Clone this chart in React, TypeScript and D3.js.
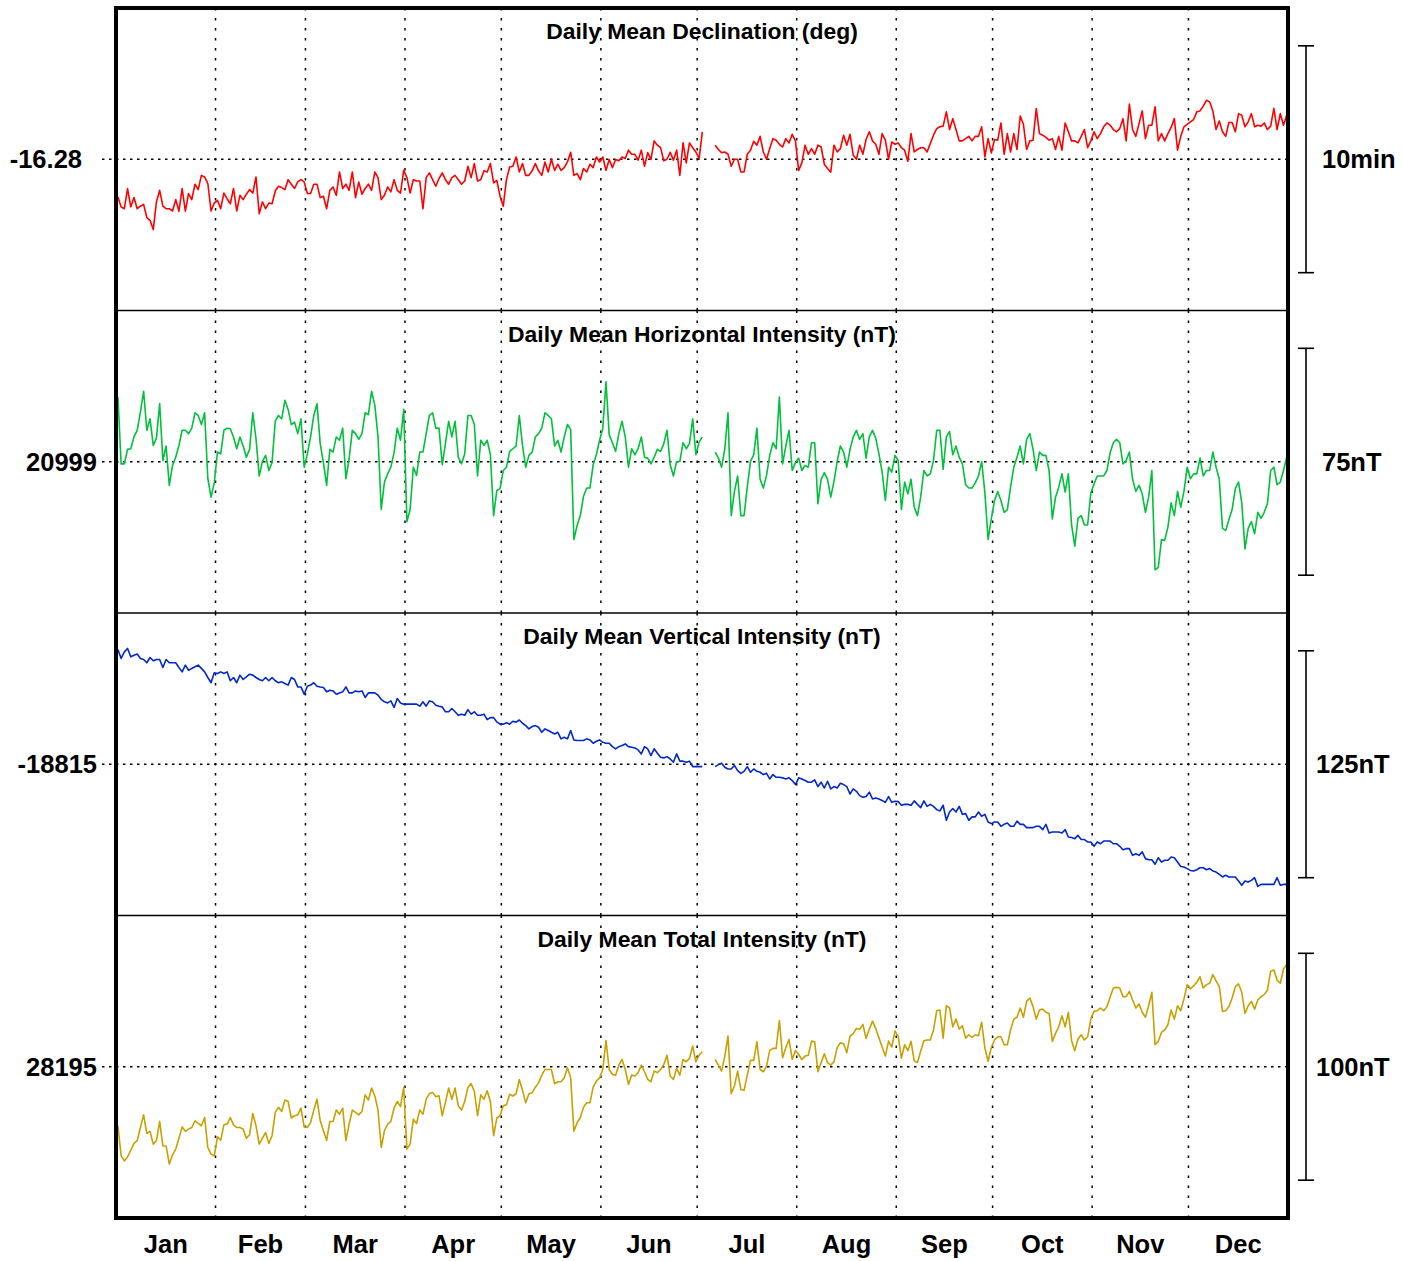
import React from 'react';
import * as d3 from 'd3';

// ---------------- DATA ----------------
const months = ['Jan', 'Feb', 'Mar', 'Apr', 'May', 'Jun', 'Jul', 'Aug', 'Sep', 'Oct', 'Nov', 'Dec'];
const monthStartDay = [0, 31, 59, 90, 120, 151, 181, 212, 243, 273, 304, 334, 365];

const panelTitles = [
  'Daily Mean Declination (deg)',
  'Daily Mean Horizontal Intensity (nT)',
  'Daily Mean Vertical Intensity (nT)',
  'Daily Mean Total Intensity (nT)',
];
const baselineLabels = ['-16.28', '20999', '-18815', '28195'];
const scaleLabels = ['10min', '75nT', '125nT', '100nT'];

// Baselines (the labelled reference level of each panel)
const declBaseDeg = -16.28;
const hBase = 20999;
const zBase = -18815;
const fBase = 28195;

// Declination: daily mean, arc-minutes relative to -16.28 deg (null = missing day)
const declOffsetMin: (number | null)[] = [
  -1.66, -2.10, -2.18, -1.29, -2.10, -1.69, -2.18, -2.07, -1.99, -2.57,
  -2.69, -3.10, -1.88, -1.37, -2.07, -2.18, -2.18, -2.28, -1.78, -2.29,
  -1.29, -2.29, -1.51, -1.78, -1.10, -1.34, -0.71, -0.78, -1.07, -2.28,
  -1.93, -1.81, -2.18, -1.49, -1.74, -1.96, -1.29, -2.28, -1.59, -1.78,
  -1.54, -1.34, -1.49, -0.78, -2.40, -1.88, -2.18, -1.93, -1.96, -1.40,
  -1.19, -1.25, -1.34, -0.90, -1.10, -1.29, -1.00, -0.90, -1.00, -1.51,
  -1.51, -1.10, -1.10, -1.69, -1.63, -2.18, -1.37, -1.22, -1.59, -0.56,
  -1.29, -1.10, -1.37, -0.56, -1.69, -1.00, -1.54, -1.29, -1.10, -1.37,
  -0.56, -0.81, -1.78, -1.59, -1.22, -1.44, -0.90, -1.37, -1.49, -0.49,
  -0.81, -1.49, -0.90, -0.96, -0.96, -2.18, -0.81, -0.60, -0.90, -1.19,
  -0.85, -0.60, -0.90, -1.10, -0.81, -0.71, -0.90, -1.10, -0.96, -0.31,
  -0.81, -0.19, -0.96, -0.90, -0.51, -0.56, -0.19, -1.04, -0.93, -1.63,
  -2.07, -0.90, -0.34,
  -0.31, 0.10, -0.56, -0.19, -0.71, -0.71, -0.51,
  -0.19, -0.51, -0.71, -0.12, -0.56, 0.00, -0.49, -0.22, -0.49, -0.37,
  -0.12, 0.31, -0.71, -0.63, -0.90, -0.41, -0.56, -0.22, -0.37, 0.10,
  -0.12, 0.10, -0.49, -0.01, -0.37, -0.01, -0.07, 0.10, 0.03, 0.40,
  0.22, 0.22, -0.04, 0.40, -0.31, 0.29, -0.01, 0.81, 0.62, 0.51,
  -0.07, 0.00, 0.31, -0.04, 0.40, -0.71, 0.72, -0.16, 0.72, 0.51,
  0.32, 0.03, 1.21, null, null, null, 0.62, 0.43, 0.29, 0.32,
  0.22, -0.31, 0.00, 0.00, -0.56, -0.56, 0.22, 0.40, 0.79, 0.62,
  1.01, 0.32, 0.00, 0.47, 0.91, 0.84, 0.66, 0.54, 0.91, 0.72,
  1.10, 0.81, -0.49, -0.16, 0.62, 0.22, 0.47, 0.22, 0.62, 0.54,
  -0.22, -0.41, -0.57, 0.62, 0.32, 0.47, 1.06, 0.62, 1.10, 0.18,
  0.00, 0.62, 0.22, 0.87, 1.21, 0.81, 0.66, 0.22, 1.13, 0.84,
  0.00, 0.76, 0.66, 0.72,
  0.51, 0.40, -0.09, 1.13, 0.32, 0.43,
  0.51, 0.51, 0.32, 0.69, 1.06, 1.35, 1.43, 1.46, 2.09, 1.31,
  1.79, 1.31, 0.81, 0.81, 0.91, 1.01, 0.81, 1.01, 1.01, 1.43,
  0.10, 0.91, 0.28, 0.87, 0.84, 1.60, 0.22, 1.13, 0.32, 1.13,
  0.43, 1.90, 1.54, 0.43, 0.81, 0.84, 2.24, 1.13, 1.06, 0.96,
  0.84, 0.91, 0.43, 1.01, 0.40, 1.60, 1.21, 0.81, 0.81, 0.72,
  1.01, 1.31, 0.51, 0.81, 1.21, 0.91, 1.13, 1.43, 1.60, 1.50,
  1.31, 1.21, 1.35, 1.79, 0.81, 2.43, 1.31, 1.01, 1.57, 2.13,
  0.91, 1.50, 1.50, 2.31, 0.81, 1.13, 0.81, 1.13, 1.40, 1.79,
  0.40, 1.01, 1.43, 1.54, 1.65, 1.75, 2.09, 2.13, 2.34, 2.60,
  2.53, 2.13, 1.31, 1.69, 1.21, 1.01, 1.62, 1.62, 1.21, 2.01,
  1.94, 1.43, 1.65, 2.01, 1.43, 1.50, 1.46, 1.60, 1.31, 1.46,
  2.24, 1.31, 2.01, 1.50, 1.94,
];

// Horizontal intensity: daily mean, nT relative to 20999 nT
const hOffsetNT: (number | null)[] = [
  21.4, -0.7, -0.7, 4.1, 4.3, 8.2, 10.4, 16.4, 23.3, 10.4,
  14.2, 5.4, 7.8, 19.2, 0.4, 5.2, -7.8, -1.2, 1.5, 5.4,
  10.4, 10.4, 9.3, 11.1, 16.2, 15.3, 12.3, 16.2, -5.6, -11.7,
  -7.0, 3.2, 2.6, 10.4, 11.1, 10.9, 8.2, 4.3, 8.2, 5.2,
  1.5, 4.1, 16.2, 7.6, -4.7, 0.1, 2.1, -2.9, -0.3, 13.4,
  15.3, 14.2, 20.3, 17.3, 12.3, 13.1, 9.3, 14.2, -1.8, 2.6,
  8.2, 15.3, 19.2, 6.0, -0.3, -7.8, 4.1, 3.2, 8.2, 7.1,
  11.1, -5.6, 1.0, 10.4, 9.3, 7.4, 9.3, 16.2, 15.6, 23.3,
  18.7, 8.2, -15.8, -6.7, -4.0, -1.8, 3.0, 11.1, 7.1, 17.3,
  -19.8, -15.8, -1.8, -4.5, 3.2, 3.2, 9.3, 15.3, 16.2, 11.1,
  11.1, -1.0, 6.0, 13.4, 8.2, 13.4, 1.5, -0.7, 2.6, 15.3,
  15.3, 12.3, -4.7, 7.1, 5.4, 7.1, 2.3, -17.8, -9.5, -8.9,
  -2.9, -1.8, 3.4,
  4.3, 5.2, 15.3, 5.4, -1.8, 2.1, 3.2,
  8.2, 9.3, 11.1, 16.2, 15.3, 14.2, 5.2, 7.1, 3.2, 8.2,
  12.3, 10.7, -25.7, -21.1, -17.8, -11.4, -8.7, -8.7, -1.0, 2.3,
  7.1, 11.1, 26.4, 8.9, 6.3, 3.4, 9.3, 13.4, 8.2, -1.8,
  4.3, 2.3, 4.3, 8.2, 1.5, 1.2, -0.7, 1.5, 4.1, 3.4,
  6.0, 10.4, -1.0, -4.7, 0.1, 0.1, 6.3, 4.3, 6.0, 14.2,
  2.3, 6.5, 8.2, null, null, null, 3.2, 1.2, -1.8, 4.3,
  16.2, -17.8, -9.8, -4.7, -17.8, -17.8, -8.4, 0.1, 2.3, 11.1,
  -5.8, -8.7, -4.5, 2.1, 6.3, 4.3, 21.4, -0.7, 5.2, 10.4,
  -2.9, -0.3, 1.2, -2.9, -1.2, -1.8, 6.3, 6.3, -13.9, -5.8,
  -3.6, -5.8, -11.7, -6.5, 0.1, 5.2, 3.2, -1.8, 4.1, 8.2,
  10.4, 7.4, 9.3, 1.2, 8.2, 10.4, 7.8, 2.6, -3.4, -12.8,
  -1.8, -3.4, 2.1, 0.4,
  -15.8, -6.7, -10.6, -5.8, -15.0, -17.8,
  -11.7, -2.9, -4.7, -4.0, 0.4, 10.4, 10.4, -2.5, 8.2, 10.0,
  2.3, 5.2, 1.5, -0.7, -7.6, -8.7, -8.7, -7.0, -4.7, 0.1,
  -10.3, -25.7, -18.9, -12.8, -9.8, -12.8, -16.7, -15.8, -8.4, -1.8,
  1.5, 5.2, -0.7, 7.4, 9.3, 4.1, -2.9, 3.2, 2.1, 2.1,
  -2.9, -18.9, -11.7, -8.4, -4.0, -10.0, -4.0, -20.9, -27.9, -18.7,
  -17.8, -20.9, -20.9, -10.3, -7.3, -4.7, -4.7, -4.7, -2.9, 3.0,
  6.3, 7.4, 6.3, -0.7, 0.4, 3.2, -5.8, -9.8, -7.8, -10.6,
  -16.7, -11.7, -2.9, -35.7, -34.9, -25.7, -26.0, -21.6, -13.6, -17.8,
  -9.8, -15.0, -9.8, -1.8, -5.6, -4.0, -4.0, 1.2, -4.7, -2.9,
  -2.9, 3.2, -1.8, -5.8, -22.0, -22.7, -19.1, -15.8, -8.9, -6.7,
  -13.6, -28.8, -22.0, -19.8, -23.8, -16.7, -18.7, -16.7, -13.9, -2.9,
  -1.8, -7.6, -6.7, -2.9, 1.5,
];

// Vertical intensity: daily mean, nT relative to -18815 nT
const zOffsetNT: (number | null)[] = [
  63.2, 58.3, 61.9, 63.8, 59.2, 60.1, 60.7, 58.3, 57.7, 55.9,
  58.8, 57.0, 57.7, 57.7, 53.3, 57.7, 55.9, 55.9, 55.9, 53.3,
  50.9, 54.6, 51.8, 52.8, 53.7, 54.6, 52.8, 50.9, 47.8, 44.9,
  50.4, 50.0, 50.9, 50.0, 50.9, 46.0, 47.8, 44.9, 49.1, 46.7,
  48.2, 49.6, 49.1, 47.8, 46.7, 46.0, 47.8, 46.0, 47.8, 46.0,
  44.9, 45.4, 44.5, 43.6, 47.8, 46.7, 42.6, 42.6, 38.6, 43.0,
  43.6, 44.9, 43.0, 42.6, 42.3, 39.9, 40.8, 40.4, 38.6, 39.3,
  39.9, 42.6, 39.3, 39.3, 40.4, 39.9, 40.4, 36.8, 39.3, 39.3,
  39.3, 38.1, 35.7, 34.4, 33.8, 34.9, 31.3, 36.2, 33.8, 33.1,
  33.1, 33.1, 33.1, 33.1, 32.0, 34.4, 32.0, 34.9, 34.4, 32.5,
  32.0, 31.6, 28.9, 28.9, 30.7, 28.9, 27.0, 27.6, 27.0, 30.1,
  27.6, 28.9, 27.0, 27.0, 27.6, 24.6, 25.7, 25.7, 23.3, 22.1,
  22.1, 22.8, 22.1,
  23.7, 23.2, 24.4, 22.6, 21.3, 19.5, 20.8,
  21.3, 20.4, 17.6, 19.5, 18.6, 17.6, 16.7, 17.6, 14.0, 14.9,
  14.0, 18.6, 13.4, 13.1, 13.1, 13.1, 14.0, 13.4, 11.6, 12.7,
  13.4, 12.1, 11.6, 11.6, 9.7, 8.5, 9.7, 10.3, 11.2, 9.7,
  9.4, 9.0, 7.9, 5.7, 9.7, 8.5, 4.8, 8.5, 6.1, 3.9,
  3.5, 4.2, 2.9, 1.1, 5.7, 1.7, 1.7, 1.1, 1.7, -1.3,
  -1.3, -1.3, -1.3, null, null, null, -1.3, -0.2, 0.6, -1.7,
  -2.6, -2.6, -0.7, -3.5, -5.0, -3.9, -1.3, -4.4, -2.6, -3.9,
  -4.4, -5.7, -5.0, -8.1, -5.7, -7.2, -7.2, -7.5, -8.1, -7.5,
  -9.0, -11.2, -7.5, -8.1, -9.0, -9.9, -9.9, -8.6, -12.3, -9.9,
  -13.1, -9.4, -13.6, -12.3, -13.1, -10.5, -11.2, -12.3, -16.4, -13.6,
  -14.9, -17.3, -18.2, -17.8, -15.4, -19.1, -18.6, -19.1, -20.0, -21.0,
  -17.8, -21.0, -20.4, -20.6,
  -22.6, -22.1, -22.1, -22.6, -20.2, -22.1,
  -23.9, -20.2, -23.2, -22.1, -23.2, -25.0, -25.7, -22.6, -30.9, -26.3,
  -24.4, -26.3, -23.2, -27.6, -27.2, -30.9, -29.0, -29.0, -26.3, -28.7,
  -27.6, -31.8, -32.7, -31.8, -31.8, -34.2, -33.1, -32.4, -34.2, -34.2,
  -31.3, -33.1, -33.1, -34.9, -34.9, -34.9, -34.2, -34.2, -36.0, -33.1,
  -37.9, -37.3, -37.3, -37.3, -37.9, -36.0, -40.1, -40.4, -41.0, -39.2,
  -41.5, -41.5, -42.8, -42.8, -45.2, -42.8, -43.8, -42.3, -42.3, -42.3,
  -43.8, -43.8, -45.2, -47.1, -46.5, -46.5, -50.2, -49.3, -50.2, -48.3,
  -52.0, -52.6, -52.6, -55.1, -51.5, -53.9, -52.9, -52.9, -51.1, -51.5,
  -53.9, -56.3, -56.6, -57.5, -58.5, -58.8, -58.1, -57.0, -57.0, -58.1,
  -57.5, -58.8, -59.4, -60.7, -62.1, -61.2, -62.1, -62.1, -62.1, -64.3,
  -66.7, -64.3, -64.9, -64.0, -62.5, -67.3, -66.2, -66.2, -66.2, -66.2,
  -66.2, -62.5, -66.7, -66.2, -66.2,
];

// Total intensity: daily mean, nT relative to 28195 nT
const fOffsetNT: (number | null)[] = [
  -26.0, -39.3, -41.5, -39.7, -36.8, -33.8, -32.6, -26.8, -21.2, -29.4,
  -28.5, -34.1, -32.6, -24.1, -34.9, -34.9, -42.9, -38.8, -36.3, -31.5,
  -26.5, -28.5, -27.5, -26.8, -23.8, -25.0, -26.0, -22.4, -35.6, -38.5,
  -39.3, -30.9, -32.4, -25.6, -25.3, -22.4, -25.6, -26.8, -26.8, -27.5,
  -31.5, -30.0, -20.6, -26.0, -34.1, -31.5, -29.0, -33.8, -30.4, -20.1,
  -17.9, -19.7, -14.7, -15.3, -22.6, -21.6, -21.2, -18.2, -26.5, -26.8,
  -24.6, -19.1, -14.3, -23.8, -28.2, -32.4, -24.1, -24.1, -19.1, -20.9,
  -18.2, -32.6, -25.3, -19.1, -20.1, -21.2, -19.7, -12.4, -14.7, -9.4,
  -12.8, -19.1, -35.6, -28.2, -25.3, -24.1, -18.2, -15.3, -17.6, -9.1,
  -36.3, -34.1, -23.1, -25.0, -19.1, -20.9, -14.3, -11.8, -11.3, -13.2,
  -12.8, -21.6, -15.7, -9.4, -14.3, -9.4, -17.2, -19.1, -15.3, -9.1,
  -7.4, -10.9, -21.6, -12.4, -14.3, -10.6, -15.3, -30.4, -22.6, -21.6,
  -17.2, -16.8, -12.1,
  -12.9, -11.9, -5.6, -10.4, -15.9, -11.9, -11.5,
  -9.0, -7.1, -3.7, -1.2, -1.2, -1.2, -7.5, -6.6, -6.6, -4.9,
  -0.4, -4.9, -28.4, -24.7, -22.5, -17.8, -15.9, -15.9, -9.0, -6.3,
  -4.9, -1.2, 11.6, -1.2, -3.4, -3.7, 0.7, 3.2, -1.2, -7.8,
  -3.7, -4.1, -2.6, 0.7, -2.2, -5.6, -6.6, -1.9, -2.6, -1.2,
  1.0, 5.1, -4.1, -5.6, -0.7, -3.7, 3.2, 2.2, 3.7, 9.1,
  2.2, 5.1, 6.6, null, null, null, 3.2, 0.7, -1.9, 4.7,
  13.5, -11.9, -8.5, -1.9, -10.0, -10.4, -3.7, 2.8, 2.8, 11.0,
  -1.2, -2.2, 0.3, 7.2, 8.1, 8.1, 20.4, 4.0, 8.4, 12.1,
  3.2, 7.2, 5.4, 3.2, 4.7, 5.1, 11.3, 11.0, -2.2, 1.8,
  5.7, 1.8, 0.7, 2.2, 8.4, 10.6, 10.1, 6.2, 13.5, 14.6,
  16.9, 16.5, 18.7, 12.5, 16.5, 20.1, 16.9, 12.8, 8.7, 4.7,
  11.3, 8.7, 15.7, 13.5,
  3.8, 9.7, 7.1, 11.2, 2.6, 1.9,
  6.8, 11.5, 11.8, 11.8, 16.2, 24.7, 25.0, 12.6, 26.9, 25.9,
  17.6, 21.0, 16.6, 18.1, 12.6, 14.1, 12.9, 14.1, 13.7, 19.6,
  8.2, 2.4, 8.5, 11.8, 13.2, 13.2, 9.7, 9.7, 16.2, 21.0,
  21.8, 25.9, 21.8, 28.8, 30.3, 26.5, 21.0, 25.0, 25.4, 24.0,
  23.5, 11.2, 14.7, 17.6, 22.5, 17.6, 24.0, 11.5, 7.1, 12.2,
  14.1, 11.8, 13.2, 21.0, 24.4, 24.7, 25.9, 24.7, 26.5, 30.6,
  34.7, 35.0, 34.7, 30.9, 30.9, 33.2, 29.4, 25.9, 27.6, 24.0,
  21.8, 26.9, 32.8, 9.7, 11.2, 15.1, 16.2, 18.5, 25.0, 21.0,
  26.9, 24.7, 29.9, 36.2, 34.3, 35.7, 37.2, 39.7, 34.7, 36.2,
  36.8, 40.6, 37.9, 35.3, 24.4, 24.7, 26.5, 30.3, 35.3, 36.5,
  32.8, 23.5, 26.9, 28.8, 25.4, 29.4, 30.9, 31.8, 33.8, 42.1,
  42.6, 38.2, 36.8, 43.1, 45.0,
];

// Scale-bar spans in data units (bar = 3/4 of panel height)
const declScaleDeg = 10 / 60;
const hScaleNT = 75;
const zScaleNT = 125;
const fScaleNT = 100;

// ---------------- LAYOUT ----------------
const W = 1403;
const H = 1261;
const frame = { left: 116, right: 1288, top: 8, bottom: 1218 };
const FONT = "'Liberation Sans', Arial, Helvetica, sans-serif";

const toAbs = (arr: (number | null)[], base: number, k = 1) =>
  arr.map((v) => (v == null ? null : base + v * k));

const panels = [
  {
    title: panelTitles[0], label: baselineLabels[0], scaleLabel: scaleLabels[0],
    base: declBaseDeg, span: declScaleDeg, values: toAbs(declOffsetMin, declBaseDeg, 1 / 60),
    color: '#ff0000', labelRight: 82, scaleLabelX: 1322,
  },
  {
    title: panelTitles[1], label: baselineLabels[1], scaleLabel: scaleLabels[1],
    base: hBase, span: hScaleNT, values: toAbs(hOffsetNT, hBase),
    color: '#00c03c', labelRight: 97, scaleLabelX: 1322,
  },
  {
    title: panelTitles[2], label: baselineLabels[2], scaleLabel: scaleLabels[2],
    base: zBase, span: zScaleNT, values: toAbs(zOffsetNT, zBase),
    color: '#0028cc', labelRight: 97, scaleLabelX: 1316,
  },
  {
    title: panelTitles[3], label: baselineLabels[3], scaleLabel: scaleLabels[3],
    base: fBase, span: fScaleNT, values: toAbs(fOffsetNT, fBase),
    color: '#c8a000', labelRight: 97, scaleLabelX: 1316,
  },
];

export default function App() {
  const x = d3.scaleLinear().domain([0, 365]).range([frame.left, frame.right]);
  const panelH = (frame.bottom - frame.top) / panels.length;

  return (
    <svg
      width={W}
      height={H}
      viewBox={`0 0 ${W} ${H}`}
      style={{ position: 'absolute', left: 0, top: 0, background: '#fff' }}
      fontFamily={FONT}
    >
      <rect x={0} y={0} width={W} height={H} fill="#fff" />
      {panels.map((p, i) => {
        const top = frame.top + i * panelH;
        const bottom = top + panelH;
        const half = p.span / 0.75 / 2;
        const y = d3.scaleLinear().domain([p.base - half, p.base + half]).range([bottom, top]);
        const line = d3
          .line<number | null>()
          .defined((v) => v != null)
          .x((_, d) => x(d + 0.6))
          .y((v) => y(v as number));
        const yc = y(p.base);
        const barTop = y(p.base + p.span / 2);
        const barBot = y(p.base - p.span / 2);
        return (
          <g key={i}>
            {/* horizontal dotted baseline */}
            <line
              x1={frame.left - 14}
              x2={frame.right}
              y1={yc}
              y2={yc}
              stroke="#000"
              strokeWidth={1.5}
              strokeDasharray="2.5,4.5"
            />
            {/* vertical month grid */}
            {monthStartDay.slice(1, 12).map((d) => (
              <line
                key={d}
                x1={x(d)}
                x2={x(d)}
                y1={top}
                y2={bottom}
                stroke="#000"
                strokeWidth={1.5}
                strokeDasharray="2.5,7.5"
              />
            ))}
            <path d={line(p.values) || ''} fill="none" stroke={p.color} strokeWidth={1.6} strokeLinejoin="round" />
            {/* title */}
            <text x={(frame.left + frame.right) / 2} y={top + 31} textAnchor="middle" fontSize={22.9} fontWeight="bold">
              {p.title}
            </text>
            {/* baseline label */}
            <text x={p.labelRight} y={yc + 9} textAnchor="end" fontSize={25.5} fontWeight="bold">
              {p.label}
            </text>
            {/* scale bar */}
            <line x1={1306} x2={1306} y1={barTop} y2={barBot} stroke="#000" strokeWidth={1.6} />
            <line x1={1298} x2={1314} y1={barTop} y2={barTop} stroke="#000" strokeWidth={1.6} />
            <line x1={1298} x2={1314} y1={barBot} y2={barBot} stroke="#000" strokeWidth={1.6} />
            <text x={p.scaleLabelX} y={yc + 9} fontSize={25.5} fontWeight="bold">
              {p.scaleLabel}
            </text>
            {i > 0 && (
              <line x1={frame.left} x2={frame.right} y1={top} y2={top} stroke="#000" strokeWidth={1.5} />
            )}
          </g>
        );
      })}
      {/* month labels */}
      {months.map((m, i) => (
        <text
          key={m}
          x={x((monthStartDay[i] + monthStartDay[i + 1]) / 2)}
          y={1253}
          textAnchor="middle"
          fontSize={25.5}
          fontWeight="bold"
        >
          {m}
        </text>
      ))}
      {/* frame */}
      <rect
        x={frame.left}
        y={frame.top}
        width={frame.right - frame.left}
        height={frame.bottom - frame.top}
        fill="none"
        stroke="#000"
        strokeWidth={4}
      />
    </svg>
  );
}
